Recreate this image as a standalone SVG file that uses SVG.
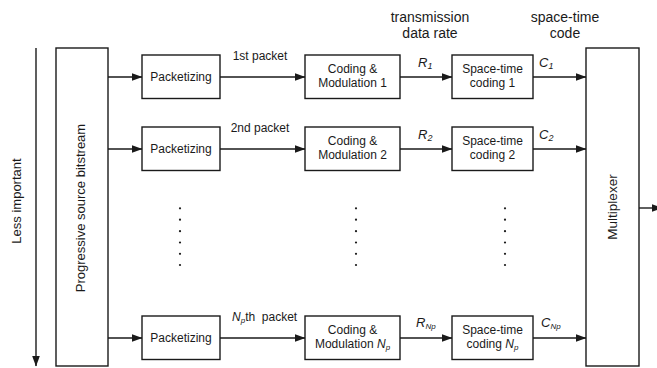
<svg xmlns="http://www.w3.org/2000/svg" width="657" height="368" viewBox="0 0 657 368">
<defs>
<marker id="ah" markerWidth="11" markerHeight="8" refX="10.5" refY="4" orient="auto" markerUnits="userSpaceOnUse">
<path d="M0,0 L11,4 L0,8 Z" fill="#1a1a1a"/>
</marker>
</defs>
<style>
rect.b{fill:#fff;stroke:#1a1a1a;stroke-width:1.4}
line.c{stroke:#1a1a1a;stroke-width:1.4;marker-end:url(#ah)}
text{font-family:"Liberation Sans",Arial,sans-serif;fill:#1a1a1a}
.t{font-size:12px;text-anchor:middle}
.h{font-size:14px;text-anchor:middle}
.r{font-size:13px;text-anchor:middle}
.l{font-size:12px}
.v{font-size:13px;font-style:italic}
.i{font-style:italic}
.s{font-size:8px;font-style:italic}
.ss{font-size:9px;font-style:italic}
circle{fill:#1a1a1a}
</style>
<rect width="657" height="368" fill="#fff"/>

<g id="connectors">
<line class="c" x1="36" y1="48" x2="36" y2="366"/>
<line class="c" x1="108" y1="77" x2="142" y2="77"/>
<line class="c" x1="220" y1="77" x2="305" y2="77"/>
<line class="c" x1="400" y1="77" x2="452" y2="77"/>
<line class="c" x1="533" y1="77" x2="586" y2="77"/>
<line class="c" x1="108" y1="149" x2="142" y2="149"/>
<line class="c" x1="220" y1="149" x2="305" y2="149"/>
<line class="c" x1="400" y1="149" x2="452" y2="149"/>
<line class="c" x1="533" y1="149" x2="586" y2="149"/>
<line class="c" x1="108" y1="338" x2="142" y2="338"/>
<line class="c" x1="220" y1="338" x2="305" y2="338"/>
<line class="c" x1="400" y1="338" x2="452" y2="338"/>
<line class="c" x1="533" y1="338" x2="586" y2="338"/>
<line class="c" x1="639" y1="208" x2="662" y2="208"/>
</g>

<g id="labels">
<text class="h" x="430" y="21.5">transmission</text>
<text class="h" x="430" y="38">data rate</text>
<text class="h" x="565" y="21.5">space-time</text>
<text class="h" x="565" y="38">code</text>
<text class="r" transform="translate(21,201) rotate(-90)">Less important</text>
<text class="t" x="260" y="60">1st packet</text>
<text class="t" x="260" y="132">2nd packet</text>
<text class="l" x="232" y="321" xml:space="preserve"><tspan class="i">N</tspan><tspan class="s" dy="2">p</tspan><tspan dy="-2">th  packet</tspan></text>
<text class="v" x="418" y="67">R<tspan class="ss" dy="1.5">1</tspan></text>
<text class="v" x="418" y="139">R<tspan class="ss" dy="1.5">2</tspan></text>
<text class="v" x="416" y="327">R<tspan class="s" dy="1.5">Np</tspan></text>
<text class="v" x="539" y="67">C<tspan class="ss" dy="1.5">1</tspan></text>
<text class="v" x="539" y="139">C<tspan class="ss" dy="1.5">2</tspan></text>
<text class="v" x="541" y="327">C<tspan class="s" dy="1.5">Np</tspan></text>
</g>

<g id="dots">
<circle cx="180" cy="208.3" r="1.1"/><circle cx="180" cy="219.7" r="1.1"/><circle cx="180" cy="231.2" r="1.1"/><circle cx="180" cy="242.5" r="1.1"/><circle cx="180" cy="253.8" r="1.1"/><circle cx="180" cy="265" r="1.1"/>
<circle cx="356" cy="208.3" r="1.1"/><circle cx="356" cy="219.7" r="1.1"/><circle cx="356" cy="231.2" r="1.1"/><circle cx="356" cy="242.5" r="1.1"/><circle cx="356" cy="253.8" r="1.1"/><circle cx="356" cy="265" r="1.1"/>
<circle cx="505" cy="208.3" r="1.1"/><circle cx="505" cy="219.7" r="1.1"/><circle cx="505" cy="231.2" r="1.1"/><circle cx="505" cy="242.5" r="1.1"/><circle cx="505" cy="253.8" r="1.1"/><circle cx="505" cy="265" r="1.1"/>
</g>

<g id="source">
<rect class="b" x="56" y="48" width="52" height="318"/>
<text class="r" transform="translate(84.5,208) rotate(-90)">Progressive source bitstream</text>
</g>

<g id="pack1"><rect class="b" x="142" y="55" width="78" height="43.5"/><text class="t" x="181" y="81">Packetizing</text></g>
<g id="pack2"><rect class="b" x="142" y="127" width="78" height="43.5"/><text class="t" x="181" y="153">Packetizing</text></g>
<g id="packN"><rect class="b" x="142" y="316" width="78" height="43.5"/><text class="t" x="181" y="342">Packetizing</text></g>

<g id="cm1"><rect class="b" x="305" y="55" width="95" height="43.5"/><text class="t" x="352.5" y="73">Coding &amp;</text><text class="t" x="352.5" y="87">Modulation 1</text></g>
<g id="cm2"><rect class="b" x="305" y="127" width="95" height="43.5"/><text class="t" x="352.5" y="145">Coding &amp;</text><text class="t" x="352.5" y="159">Modulation 2</text></g>
<g id="cmN"><rect class="b" x="305" y="316" width="95" height="43.5"/><text class="t" x="352.5" y="334">Coding &amp;</text><text class="t" x="352.5" y="348">Modulation <tspan class="i">N</tspan><tspan class="s" dy="2">p</tspan></text></g>

<g id="st1"><rect class="b" x="452" y="55" width="81" height="43.5"/><text class="t" x="492.5" y="73">Space-time</text><text class="t" x="492.5" y="87">coding 1</text></g>
<g id="st2"><rect class="b" x="452" y="127" width="81" height="43.5"/><text class="t" x="492.5" y="145">Space-time</text><text class="t" x="492.5" y="159">coding 2</text></g>
<g id="stN"><rect class="b" x="452" y="316" width="81" height="43.5"/><text class="t" x="492.5" y="334">Space-time</text><text class="t" x="492.5" y="348">coding <tspan class="i">N</tspan><tspan class="s" dy="2">p</tspan></text></g>

<g id="mux">
<rect class="b" x="586" y="48" width="53" height="318"/>
<text class="r" transform="translate(616.5,207) rotate(-90)" style="font-size:13.5px">Multiplexer</text>
</g>
</svg>
